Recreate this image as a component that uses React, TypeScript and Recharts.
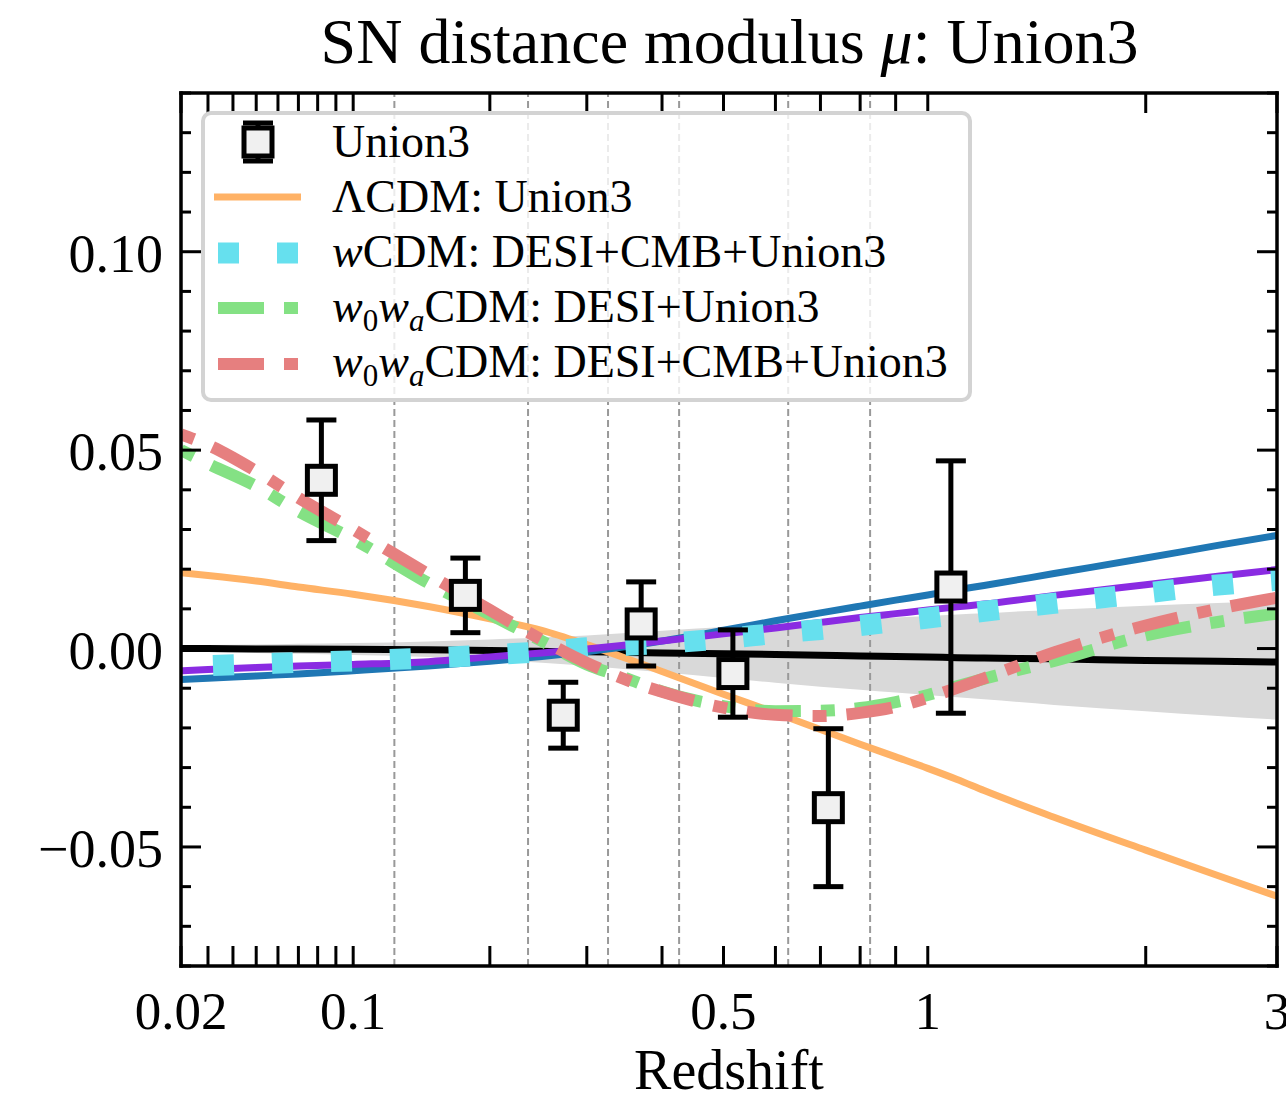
import {
  ComposedChart,
  Line,
  Area,
  Scatter,
  ErrorBar,
  XAxis,
  YAxis,
  ReferenceLine,
} from "recharts";

// redshift grid the model curves are read at
const zGrid = [0.02, 0.03, 0.05, 0.07, 0.1, 0.15, 0.2, 0.25, 0.3, 0.35, 0.4, 0.5, 0.6, 0.7, 0.8, 0.9, 1.0, 1.1, 1.2, 1.5, 2.0, 2.5, 3.0];

// residuals w.r.t. the fiducial model
const fiducial = [0.0, 0.0, -0.0001, -0.0001, -0.0002, -0.0003, -0.0005, -0.0007, -0.0008, -0.001, -0.0011, -0.0013, -0.0015, -0.0017, -0.0019, -0.002, -0.0021, -0.0023, -0.0024, -0.0026, -0.003, -0.0032, -0.0034];
const bandHigh = [0.0008, 0.0009, 0.001, 0.0012, 0.0014, 0.0018, 0.0023, 0.0028, 0.0033, 0.0039, 0.0045, 0.0054, 0.0062, 0.0068, 0.0073, 0.0078, 0.0082, 0.0086, 0.0089, 0.0098, 0.0108, 0.0115, 0.012];
const bandLow = [-0.0008, -0.0009, -0.0011, -0.0013, -0.0016, -0.0021, -0.0028, -0.0036, -0.0044, -0.0052, -0.006, -0.0074, -0.0086, -0.0096, -0.0104, -0.0111, -0.0117, -0.0123, -0.0128, -0.0142, -0.0158, -0.017, -0.0179];
const lcdmUnion3 = [0.0191, 0.0184, 0.017, 0.0155, 0.0137, 0.0106, 0.0075, 0.0046, 0.001, -0.0025, -0.0058, -0.0115, -0.0162, -0.0204, -0.0241, -0.0273, -0.0302, -0.033, -0.0358, -0.0425, -0.0508, -0.0572, -0.0624];
const blueModel = [-0.0078, -0.0075, -0.0069, -0.0064, -0.0056, -0.0044, -0.0032, -0.002, -0.0008, 0.0005, 0.0019, 0.0046, 0.007, 0.009, 0.0107, 0.0122, 0.0135, 0.0148, 0.0159, 0.0189, 0.0228, 0.026, 0.0285];
const purpleModel = [-0.0056, -0.0053, -0.0048, -0.0044, -0.004, -0.0033, -0.0021, -0.0011, -0.0001, 0.0009, 0.0019, 0.0037, 0.0052, 0.0066, 0.0078, 0.0088, 0.0097, 0.0105, 0.0112, 0.0134, 0.0161, 0.0182, 0.0199];
const wcdmAll = [-0.0045, -0.0043, -0.0039, -0.0035, -0.0031, -0.0024, -0.0016, -0.0008, 0.0002, 0.0008, 0.0013, 0.0025, 0.0038, 0.0048, 0.0058, 0.0068, 0.0077, 0.0086, 0.0094, 0.0114, 0.014, 0.016, 0.0172];
const w0waDesiUnion3 = [0.05, 0.0466, 0.0409, 0.0346, 0.0276, 0.0165, 0.0086, 0.0019, -0.004, -0.0075, -0.0108, -0.0145, -0.0158, -0.0157, -0.015, -0.0135, -0.0117, -0.0095, -0.0076, -0.0031, 0.0033, 0.0067, 0.0088];
const w0waAll = [0.054, 0.0513, 0.0447, 0.038, 0.03, 0.0187, 0.0097, 0.0022, -0.0036, -0.0079, -0.0109, -0.0149, -0.0167, -0.017, -0.0162, -0.0147, -0.0124, -0.0099, -0.0075, -0.001, 0.0058, 0.01, 0.0128];

// binned Union3 points
const snZ = [0.082, 0.179, 0.273, 0.37, 0.517, 0.719, 1.078];
const snMu = [0.0424, 0.0134, -0.0168, 0.0062, -0.0063, -0.0401, 0.0155];
const snErr = [0.0152, 0.0094, 0.0083, 0.0106, 0.011, 0.0199, 0.0318];

// redshift bin edges (dashed verticals)
const binEdges = [0.126, 0.236, 0.326, 0.426, 0.627, 0.827];

const xTicks = [0.02, 0.03, 0.04, 0.05, 0.06, 0.07, 0.08, 0.09, 0.1, 0.2, 0.3, 0.4, 0.5, 0.6, 0.7, 0.8, 0.9, 1, 2, 3];
const xTickLabels = ["0.02", "", "", "", "", "", "", "", "0.1", "", "", "", "0.5", "", "", "", "", "1", "", "3"];
const yTicks = [-0.08, -0.07, -0.06, -0.05, -0.04, -0.03, -0.02, -0.01, 0, 0.01, 0.02, 0.03, 0.04, 0.05, 0.06, 0.07, 0.08, 0.09, 0.1, 0.11, 0.12, 0.13, 0.14];
const yTickLabels: Record<string, string> = { "-0.05": "\u22120.05", "0": "0.00", "0.05": "0.05", "0.1": "0.10" };

// x axis is logarithmic in (z + 0.1)
const toU = (z: number) => Math.log10(z + 0.1);

const chartData = zGrid.map((z, i) => ({
  u: toU(z),
  band: [bandLow[i], bandHigh[i]],
  fiducial: fiducial[i],
  lcdm: lcdmUnion3[i],
  blue: blueModel[i],
  purple: purpleModel[i],
  wcdm: wcdmAll[i],
  w0waDU: w0waDesiUnion3[i],
  w0waAll: w0waAll[i],
}));

const snData = snZ.map((z, i) => ({ u: toU(z), mu: snMu[i], err: snErr[i] }));

const FONT = "'Liberation Serif', 'Times New Roman', serif";

const BottomTick = (props: any) => {
  const { x, y, index } = props;
  const label = xTickLabels[index];
  return (
    <g>
      <line x1={x} y1={y} x2={x} y2={y - 20} stroke="#000" strokeWidth={3} />
      {label ? (
        <text x={x} y={y + 63} textAnchor="middle" fontSize={53} fontFamily={FONT} fill="#000">
          {label}
        </text>
      ) : null}
    </g>
  );
};

const TopTick = (props: any) => {
  const { x, y } = props;
  return <line x1={x} y1={y} x2={x} y2={y + 20} stroke="#000" strokeWidth={3} />;
};

const isMajor = (v: number) => Math.abs(v / 0.05 - Math.round(v / 0.05)) < 1e-6;

const LeftTick = (props: any) => {
  const { x, y, payload } = props;
  const v = payload.value;
  const major = isMajor(v);
  const label = yTickLabels[String(Math.round(v * 100) / 100)];
  return (
    <g>
      <line x1={x} y1={y} x2={x + (major ? 20 : 10)} y2={y} stroke="#000" strokeWidth={3} />
      {major && label ? (
        <text x={x - 18} y={y + 20} textAnchor="end" fontSize={54} fontFamily={FONT} fill="#000">
          {label}
        </text>
      ) : null}
    </g>
  );
};

const RightTick = (props: any) => {
  const { x, y, payload } = props;
  const major = isMajor(payload.value);
  return <line x1={x} y1={y} x2={x - (major ? 20 : 10)} y2={y} stroke="#000" strokeWidth={3} />;
};

const SquareMarker = (props: any) => {
  const { cx, cy } = props;
  if (cx == null || cy == null) return <g />;
  return <rect x={cx - 14} y={cy - 14} width={28} height={28} fill="#f0f0f0" stroke="#000" strokeWidth={5} />;
};

const frame = { stroke: "#000", strokeWidth: 3.5, strokeLinecap: "square" as const };

const rowY = [157, 212, 267, 322, 377];

export default function App() {
  return (
    <div style={{ position: "absolute", left: 0, top: 0, width: 1286, height: 1102, background: "#fff", overflow: "hidden" }}>
      <ComposedChart
        width={1286}
        height={1102}
        data={chartData}
        margin={{ top: 92, right: 8, bottom: 135, left: 180 }}
      >
        <XAxis
          dataKey="u"
          type="number"
          domain={[toU(0.02), toU(3)]}
          allowDataOverflow
          ticks={xTicks.map(toU)}
          interval={0}
          tickSize={0}
          tickMargin={0}
          height={1}
          tick={BottomTick}
          axisLine={frame}
        />
        <XAxis
          xAxisId="top"
          orientation="top"
          dataKey="u"
          type="number"
          domain={[toU(0.02), toU(3)]}
          allowDataOverflow
          ticks={xTicks.map(toU)}
          interval={0}
          tickSize={0}
          tickMargin={0}
          height={1}
          tick={TopTick}
          axisLine={frame}
        />
        <YAxis
          type="number"
          domain={[-0.08, 0.14]}
          allowDataOverflow
          ticks={yTicks}
          interval={0}
          tickSize={0}
          tickMargin={0}
          width={1}
          tick={LeftTick}
          axisLine={frame}
        />
        <YAxis
          yAxisId="right"
          orientation="right"
          type="number"
          domain={[-0.08, 0.14]}
          allowDataOverflow
          ticks={yTicks}
          interval={0}
          tickSize={0}
          tickMargin={0}
          width={1}
          tick={RightTick}
          axisLine={frame}
        />

        {binEdges.map((z) => (
          <ReferenceLine key={z} x={toU(z)} stroke="#999" strokeWidth={2} strokeDasharray="7 4" />
        ))}

        <Area
          type="monotone"
          dataKey="band"
          stroke="none"
          fill="#d9d9d9"
          fillOpacity={1}
          dot={false}
          activeDot={false}
          isAnimationActive={false}
        />
        <Line type="monotone" dataKey="fiducial" stroke="#000" strokeWidth={7} dot={false} activeDot={false} isAnimationActive={false} />
        <Line type="monotone" dataKey="lcdm" stroke="#ffb266" strokeWidth={7} dot={false} activeDot={false} isAnimationActive={false} />
        <Line type="monotone" dataKey="blue" stroke="#1f77b4" strokeWidth={7} dot={false} activeDot={false} isAnimationActive={false} />
        <Line type="monotone" dataKey="purple" stroke="#8a2be2" strokeWidth={7} dot={false} activeDot={false} isAnimationActive={false} />
        <Line
          type="monotone"
          dataKey="wcdm"
          stroke="#66e0ee"
          strokeWidth={21}
          strokeDasharray="21 38"
          strokeDashoffset={27}
          strokeLinecap="butt"
          dot={false}
          activeDot={false}
          isAnimationActive={false}
        />
        <Line
          type="monotone"
          dataKey="w0waDU"
          stroke="#84e184"
          strokeWidth={12}
          strokeDasharray="46 20 14 20"
          strokeDashoffset={66}
          strokeLinecap="butt"
          dot={false}
          activeDot={false}
          isAnimationActive={false}
        />
        <Line
          type="monotone"
          dataKey="w0waAll"
          stroke="#e67f7f"
          strokeWidth={12}
          strokeDasharray="46 20 14 20"
          strokeDashoffset={66}
          strokeLinecap="butt"
          dot={false}
          activeDot={false}
          isAnimationActive={false}
        />
        <Scatter data={snData} dataKey="mu" shape={SquareMarker} isAnimationActive={false}>
          <ErrorBar dataKey="err" direction="y" width={15} stroke="#000" strokeWidth={5} isAnimationActive={false} />
        </Scatter>
      </ComposedChart>

      <svg
        width={1286}
        height={1102}
        style={{ position: "absolute", left: 0, top: 0, pointerEvents: "none" }}
        fontFamily={FONT}
      >
        <text x={729.5} y={63} textAnchor="middle" fontSize={64} fill="#000">
          SN distance modulus <tspan fontStyle="italic">μ</tspan>: Union3
        </text>
        <text x={729} y={1089} textAnchor="middle" fontSize={56} fill="#000">
          Redshift
        </text>

        <rect x={203} y={113} width={767} height={287} rx={8} fill="#fff" fillOpacity={0.8} stroke="#d3d3d3" strokeWidth={4} />

        <line x1={258} y1={123} x2={258} y2={161} stroke="#000" strokeWidth={5} />
        <line x1={243} y1={123} x2={273} y2={123} stroke="#000" strokeWidth={5} />
        <line x1={243} y1={161} x2={273} y2={161} stroke="#000" strokeWidth={5} />
        <rect x={244} y={128} width={28} height={28} fill="#f0f0f0" stroke="#000" strokeWidth={5} />
        <line x1={214} y1={197} x2={301} y2={197} stroke="#ffb266" strokeWidth={7} />
        <line x1={218} y1={253} x2={298} y2={253} stroke="#66e0ee" strokeWidth={21} strokeDasharray="21 38" />
        <line x1={218} y1={308} x2={298} y2={308} stroke="#84e184" strokeWidth={12} strokeDasharray="46 20 14 20" />
        <line x1={218} y1={364} x2={298} y2={364} stroke="#e67f7f" strokeWidth={12} strokeDasharray="46 20 14 20" />

        <g fontSize={46} fill="#000">
          <text x={332} y={rowY[0]}>Union3</text>
          <text x={332} y={rowY[1]}>ΛCDM: Union3</text>
          <text x={332} y={rowY[2]}>
            <tspan fontStyle="italic">w</tspan>CDM: DESI+CMB+Union3
          </text>
          <text x={332} y={rowY[3]}>
            <tspan fontStyle="italic">w</tspan>
            <tspan fontSize={31} dy={9}>0</tspan>
            <tspan fontStyle="italic" dy={-9}>w</tspan>
            <tspan fontSize={31} fontStyle="italic" dy={9}>a</tspan>
            <tspan dy={-9}>CDM: DESI+Union3</tspan>
          </text>
          <text x={332} y={rowY[4]}>
            <tspan fontStyle="italic">w</tspan>
            <tspan fontSize={31} dy={9}>0</tspan>
            <tspan fontStyle="italic" dy={-9}>w</tspan>
            <tspan fontSize={31} fontStyle="italic" dy={9}>a</tspan>
            <tspan dy={-9}>CDM: DESI+CMB+Union3</tspan>
          </text>
        </g>
      </svg>
    </div>
  );
}
